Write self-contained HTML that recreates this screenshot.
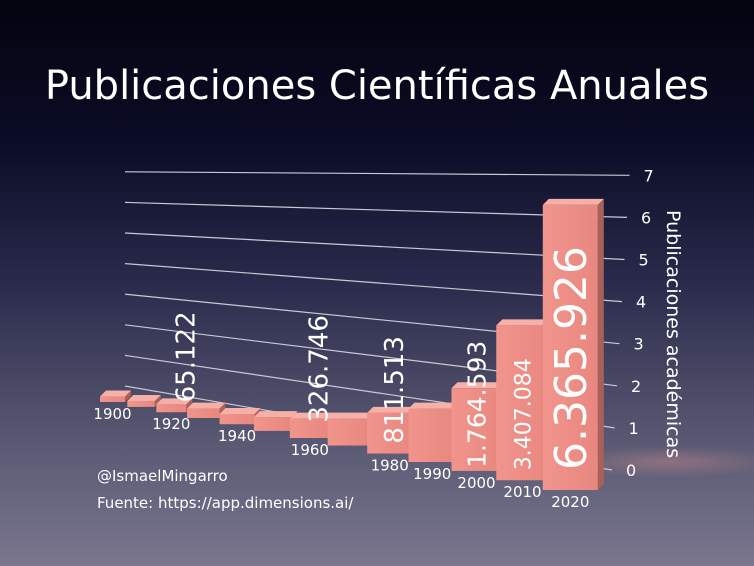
<!DOCTYPE html>
<html><head><meta charset="utf-8"><style>
body{margin:0;width:754px;height:566px;overflow:hidden;font-family:"Liberation Sans",sans-serif}
#bg{position:absolute;left:0;top:0;width:754px;height:566px;background:linear-gradient(180deg,#03040f 0%,#0b0c26 25%,#2a2b4c 50%,#55546f 75%,#7a778e 100%)}
</style></head><body>
<div id="bg"></div>
<svg id="chart" width="754" height="566" style="position:absolute;left:0;top:0">
<defs>
<radialGradient id="glow" cx="0.5" cy="0.5" r="0.5"><stop offset="0" stop-color="#c98a8a" stop-opacity="0.45"/><stop offset="1" stop-color="#c98a8a" stop-opacity="0"/></radialGradient>
<linearGradient id="front" x1="0" x2="1"><stop offset="0" stop-color="#f1958c"/><stop offset="1" stop-color="#e8877f"/></linearGradient>
</defs>
<ellipse cx="670" cy="462" rx="110" ry="16" fill="url(#glow)"/>
<text x="377" y="99" fill="#fff" font-size="40" text-anchor="middle" style="font-family:'DejaVu Sans','Liberation Sans',sans-serif">Publicaciones Científicas Anuales</text>
<g id="grid"></g><g id="bars"></g><g id="labels"></g>
<text transform="translate(667,210) rotate(90)" fill="#fff" font-size="19" style="font-family:'DejaVu Sans','Liberation Sans',sans-serif">Publicaciones académicas</text>
<text x="97" y="481" fill="#fff" font-size="15" style="font-family:'DejaVu Sans',sans-serif">@IsmaelMingarro</text>
<text x="97" y="508" fill="#fff" font-size="15" style="font-family:'DejaVu Sans',sans-serif">Fuente: https://app.dimensions.ai/</text>
</svg>
<script>
const years=[1900,1910,1920,1930,1940,1950,1960,1970,1980,1990,2000,2010,2020];
const valuesM=[0.01,0.02,0.065,0.1,0.12,0.2,0.327,0.5,0.812,1.1,1.765,3.407,6.366];
const yearLabels=["1900","","1920","","1940","","1960","","1980","1990","2000","2010","2020"];
const printed=["","","65.122","","","","326.746","","811.513","","1.764.593","3.407.084","6.365.926"];
const ticks=[0,1,2,3,4,5,6,7];
const NS="http://www.w3.org/2000/svg";
function mk(t,a,p){const e=document.createElementNS(NS,t);for(const k in a)e.setAttribute(k,a[k]);p.appendChild(e);return e;}
const grid=document.getElementById('grid'),bars=document.getElementById('bars'),labels=document.getElementById('labels');
function gLeftY(v){return 386-30.6*v;}
function gRightY(v){return 470-42.1*v;}
function gRightX(v){return 612+2.5*v;}
function bx(i){return 100+26.4*i+0.875*i*i;}
function bw(i){return 25+2.5*i;}
function bBottom(i){return 402+4.67*i+0.222*i*i;}
function bh(v){return 5+44*v;}
ticks.forEach(v=>{
  const l=mk('line',{x1:125,y1:gLeftY(v),x2:gRightX(v),y2:gRightY(v),stroke:'#c9c9d4','stroke-width':1.2},grid);
  
  
  const t=mk('text',{x:gRightX(v)+14,y:gRightY(v)+6,fill:'#fff','font-size':16,'font-family':'DejaVu Sans,sans-serif'},grid);
  t.textContent=v;
  
  
});
const lblOff={2:[14,-2],6:[8,4],8:[4,-10],10:[0,-3],11:[0,-10],12:[0,-20]};
const lblSize={2:26,6:26,8:26,10:25,11:22,12:44};
years.forEach((y,i)=>{
  const x=bx(i),w=bw(i),b=bBottom(i),h=bh(valuesM[i]),top=b-h,d=6,s=6;
  const g=mk('g',{},bars);
  
  
  mk('polygon',{points:`${x+w},${b} ${x+w+s},${b-d} ${x+w+s},${top-d} ${x+w},${top}`,fill:'#a9605b'},g);
  mk('polygon',{points:`${x},${top} ${x+s},${top-d} ${x+w+s},${top-d} ${x+w},${top}`,fill:'#f6b0a8'},g);
  mk('rect',{x:x,y:top,width:w,height:h,fill:'url(#front)'},g);
  if(yearLabels[i]){
    const t=mk('text',{x:x+w/2,y:b+17,fill:'#fff','font-size':15,'text-anchor':'middle','font-family':'DejaVu Sans,sans-serif'},labels);
    t.textContent=yearLabels[i];
    
    
  }
  if(printed[i]){
    const fs=lblSize[i],o=lblOff[i];
    const cx=x+w/2+o[0];
    const ly=(i>=10||i==8?b:top)+o[1];
    const t=mk('text',{transform:`translate(${cx+fs*0.36},${ly}) rotate(-90)`,fill:'#fff','font-size':fs,'font-family':'DejaVu Sans,sans-serif'},labels);
    t.textContent=printed[i];
    
    
  }
});
</script>
</body></html>
